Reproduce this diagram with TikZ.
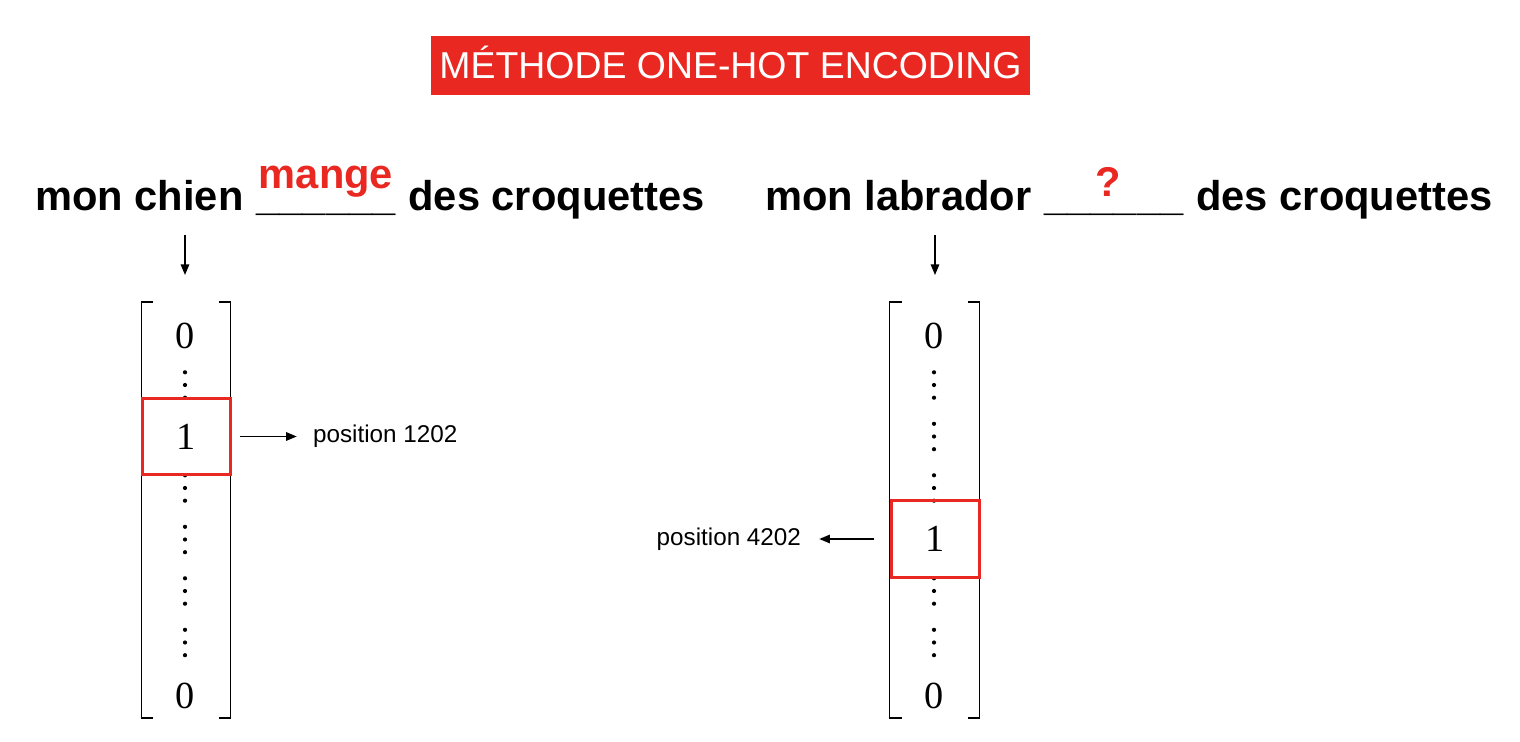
\documentclass[tikz,border=0pt]{standalone}
\usepackage{fontspec}
\setmainfont{Liberation Serif}
\setsansfont{Liberation Sans}
\usepackage{xcolor}
\usepackage{tikz}
\usetikzlibrary{arrows.meta,positioning}
\definecolor{hotred}{RGB}{234,40,34}

\begin{document}
\begin{tikzpicture}[x=0.02cm, y=-0.02cm,
  titlebox/.style={fill=hotred, text=white, inner sep=0pt,
    minimum width=11.98cm, minimum height=1.18cm,
    font=\sffamily\fontsize{21.3}{24}\selectfont,
    text height=15.2pt, text depth=0pt},
  phrase/.style={font=\sffamily\bfseries\fontsize{23.7}{28}\selectfont,
    inner sep=0pt, anchor=base west},
  gap/.style={phrase, text height=0pt, text depth=4pt},
  redword/.style={font=\sffamily\bfseries\fontsize{23.7}{28}\selectfont,
    text=hotred, inner sep=0pt, anchor=base},
  entry/.style={font=\fontsize{21.8}{24}\selectfont, inner sep=0pt},
  hotbox/.style={draw=hotred, line width=1.7pt, minimum width=1.75cm,
    minimum height=1.53cm},
  poslabel/.style={font=\sffamily\fontsize{13.8}{16}\selectfont, inner sep=0pt},
  bracket/.style={line width=1.1pt},
  link/.style={-{Triangle[length=6pt,width=4.8pt]}, line width=0.8pt}]
% page frame: same size as the slide
\useasboundingbox (0,0) rectangle (1520,742);
\node[titlebox] (title) at (730.5,65.5) {MÉTHODE ONE-HOT ENCODING};
% the two sentences, with the missing word above the blank
\node[phrase] (phA) at (35,211) {mon chien};
\node[gap] (blankA) at ([xshift=7pt]phA.base east) {\_\_\_\_\_\_};
\node[phrase] (restA) at ([xshift=7pt]blankA.base east) {des croquettes};
\node[redword] (wA) at ([yshift=0.44cm]blankA.base) {mange};
\node[phrase] (phB) at (765,211) {mon labrador};
\node[gap] (blankB) at ([xshift=7pt]phB.base east) {\_\_\_\_\_\_};
\node[phrase] (restB) at ([xshift=7pt]blankB.base east) {des croquettes};
\node[redword] (wB) at ([xshift=-0.12cm,yshift=0.28cm]blankB.base) {?};
\coordinate (dA) at (185,235);
\coordinate (eA) at (185,275);
\coordinate (dB) at (935,235);
\coordinate (eB) at (935,275);
\draw[link] (dA) -- (eA);
\draw[link] (dB) -- (eB);
% left vector: the 1 sits in row 2
\draw[bracket] (153,302) -- (141.5,302) -- (141.5,718) -- (153,718);
\draw[bracket] (219,302) -- (230.5,302) -- (230.5,718) -- (219,718);
\node[entry] (a0) at (185,336) {0};
\node[entry] (a7) at (185,696) {0};
\foreach \k in {1,3,4,5,6} {
  \foreach \d in {-12.7,0,12.7}
    \fill (185,336+51.5*\k-2.5+\d) circle (0.042cm);
}
\node[entry, hotbox] (oneA) at (186.5,436.5) {1};
\node[poslabel, right=1.62cm of oneA] (posA) {position 1202};
\draw[link] ([xshift=0.16cm]oneA.east) -- ([xshift=-0.32cm]posA.west);
% right vector: the 1 sits in row 4
\draw[bracket] (902,302) -- (889.5,302) -- (889.5,718) -- (902,718);
\draw[bracket] (968,302) -- (979.5,302) -- (979.5,718) -- (968,718);
\node[entry] (b0) at (934,336) {0};
\node[entry] (b7) at (934,696) {0};
\foreach \k in {1,2,3,5,6} {
  \foreach \d in {-12.7,0,12.7}
    \fill (934,336+51.5*\k-2.5+\d) circle (0.042cm);
}
\node[entry, hotbox] (oneB) at (935.5,539) {1};
\node[poslabel, left=1.78cm of oneB] (posB) {position 4202};
\draw[link] ([xshift=-0.32cm]oneB.west) -- ([xshift=0.36cm]posB.east);
\end{tikzpicture}
\end{document}
